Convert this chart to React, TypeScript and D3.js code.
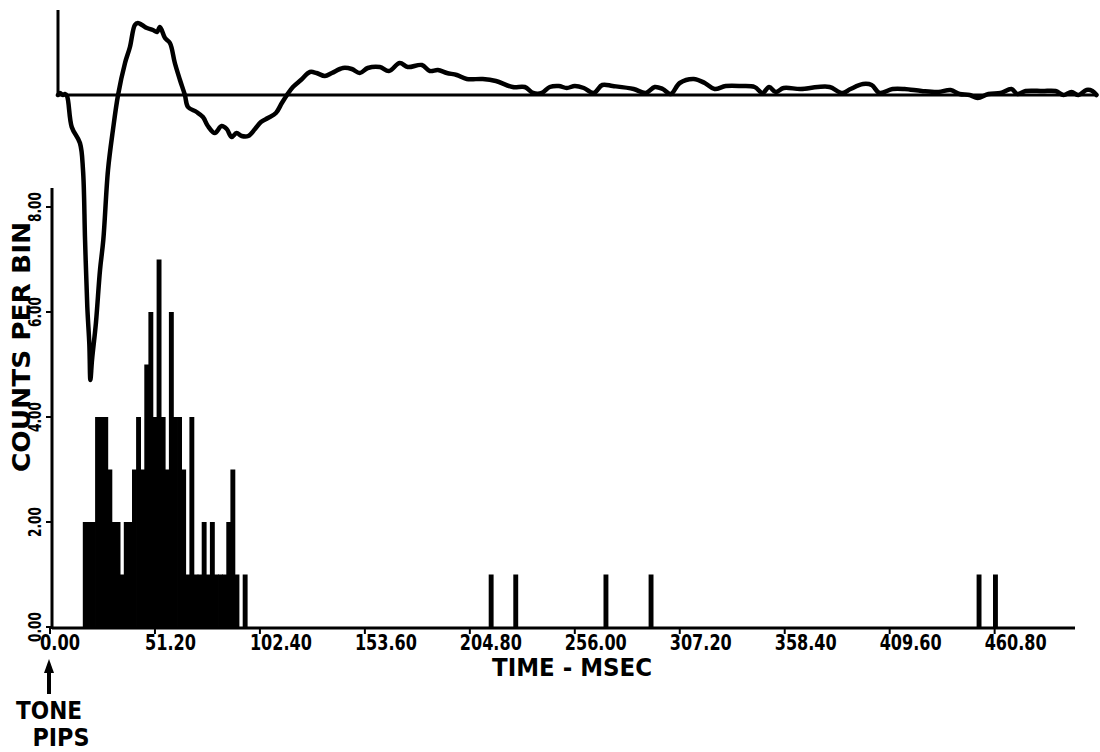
import React, { useEffect, useRef } from "react";
import * as d3 from "d3";

// PST histogram, 2 ms bins: bin start (ms) and spike count
const binWidthMs = 2;
const binStartMs = [
  16, 18, 20, 22, 24, 26, 28, 30, 32, 34, 36, 38, 40, 42, 44, 46, 48, 50, 52, 54,
  56, 58, 60, 62, 64, 66, 68, 70, 72, 74, 76, 78, 80, 82, 84, 86, 88, 90, 92, 94,
  214, 226, 270, 292, 452, 460,
];
const binCounts = [
  2, 2, 2, 4, 4, 4, 3, 2, 2, 1, 2, 2, 3, 4, 3, 5, 6, 4, 7, 4,
  3, 6, 4, 4, 3, 1, 4, 1, 1, 2, 1, 2, 1, 1, 1, 2, 3, 1, 0, 1,
  1, 1, 1, 1, 1, 1,
];

// averaged evoked potential above the histogram (arbitrary units, 0 = baseline)
const waveTimeMs = [
  3.9, 4.9, 6.3, 7.3, 8.3, 10.6, 14.6, 16.1, 17.1, 18.2, 19.2, 19.7, 20.5, 22.4, 24.4,
  26, 28.3, 30.7, 33.2, 36.6, 39, 41.4, 42.9, 44.9, 47.3, 50.2, 52.2, 53.6, 56.1, 58.5,
  60.9, 63.4, 65.8, 67.3, 71.5, 74.6, 77, 80.4, 83.7, 86.2, 88.6, 91, 93.5, 96.7, 100,
  102.9, 106.3, 110.2, 113.1, 115.6, 118.5, 122.4, 126.8, 130, 134.1, 137.5, 142.9,
  147.2, 151.1, 155, 160.9, 165.3, 170.6, 174.5, 181.4, 185.3, 189.2, 193.6, 198.4,
  203.3, 211.1, 217.5, 225.7, 231.6, 235.7, 239.9, 243.8, 248.2, 252.1, 256, 260.4,
  265.2, 269.4, 274.5, 284.7, 290.6, 295, 298.9, 302.8, 307.2, 314, 319.4, 324.2,
  329.6, 337.4, 343.7, 347.6, 350.8, 354, 357.9, 366.2, 374.5, 380.3, 386.6, 390.5,
  396.6, 400.8, 404.7, 411, 416.9, 425.2, 433.4, 439.3, 443.7, 448.6, 452.5, 457.8,
  463.7, 469, 471.9, 475.9, 484.2, 490.5, 494.4, 498.3, 501.7, 505.6, 508.5, 510.5,
];
const waveAmp = [
  0, 0.2, 0, 0.1, -0.1, -3.2, -4.8, -7.5, -14.5, -21.2, -25, -28.5, -26.5, -22.8, -17.5,
  -14.5, -7.5, -3.5, 0, 3.2, 4.8, 7, 7.2, 7, 6.7, 6.5, 6.3, 6.8, 5.7, 5.2,
  3.2, 1.5, 0, -1.2, -1.7, -2.2, -3.1, -3.8, -3.1, -3.4, -4.2, -3.8, -4.1, -4.1, -3.4,
  -2.7, -2.3, -1.8, -0.8, 0, 0.8, 1.5, 2.3, 2.2, 1.9, 2.2, 2.7,
  2.6, 2.2, 2.7, 2.8, 2.4, 3.2, 2.8, 3.0, 2.4, 2.5, 2.2, 2.0,
  1.6, 1.6, 1.4, 0.8, 0.8, 0.2, 0.2, 0.8, 0.9, 0.7, 0.9, 0.7,
  0.2, 1.0, 0.9, 0.6, 0.2, 0.8, 0.6, 0.1, 1.2, 1.6, 1.2, 0.6,
  0.9, 0.9, 0.8, 0.2, 0.8, 0.3, 0.7, 0.6, 0.8, 0.8, 0.2, 0.6,
  1.1, 1.0, 0.2, 0.6, 0.6, 0.4, 0.3, 0.5, 0.1, 0, -0.3, 0.1,
  0.2, 0.6, 0.1, 0.4, 0.4, 0.4, 0, 0.3, 0, 0.5, 0.4, 0,
];

const timeTicks = [0, 51.2, 102.4, 153.6, 204.8, 256, 307.2, 358.4, 409.6, 460.8];
const timeTickLabels = [
  "0.00", "51.20", "102.40", "153.60", "204.80", "256.00", "307.20", "358.40", "409.60", "460.80",
];
const countTicks = [0, 2, 4, 6, 8];
const countTickLabels = ["0.00", "2.00", "4.00", "6.00", "8.00"];

const width = 1100;
const height = 752;
const font = "'Liberation Sans Narrow', 'DejaVu Sans Condensed', 'DejaVu Sans', sans-serif";

function App() {
  const ref = useRef<HTMLDivElement>(null);

  useEffect(() => {
    drawChart();
  });

  function drawChart() {
    const root = d3.select(ref.current);
    root.select("svg").remove();

    const svg = root
      .append("svg")
      .attr("width", width)
      .attr("height", height)
      .style("display", "block")
      .style("background", "#ffffff");

    const x = d3.scaleLinear().domain([0, 500]).range([50, 1075]);
    const y = d3.scaleLinear().domain([0, 8]).range([627, 207]);
    const amp = d3.scaleLinear().domain([-28.5, 8.5]).range([380, 10]);

    const axisX = x(0) + 2;

    // histogram bars
    const bins = binStartMs.map((t, i) => ({ t, c: binCounts[i] })).filter((d) => d.c > 0);
    svg
      .append("g")
      .selectAll("rect")
      .data(bins)
      .enter()
      .append("rect")
      .attr("x", (d) => x(d.t))
      .attr("width", (d) => x(d.t + binWidthMs) - x(d.t) + 0.8)
      .attr("y", (d) => y(d.c))
      .attr("height", (d) => y(0) - y(d.c))
      .style("fill", "#000");

    // time axis
    svg
      .append("line")
      .attr("x1", axisX)
      .attr("x2", x(500))
      .attr("y1", y(0) + 1)
      .attr("y2", y(0) + 1)
      .style("stroke", "#000")
      .style("stroke-width", 3);

    const xt = svg.append("g");
    xt.selectAll("line")
      .data(timeTicks)
      .enter()
      .append("line")
      .attr("x1", (d) => x(d))
      .attr("x2", (d) => x(d))
      .attr("y1", y(0) + 1)
      .attr("y2", y(0) + 7)
      .style("stroke", "#000")
      .style("stroke-width", 2);
    xt.selectAll("text")
      .data(timeTicks)
      .enter()
      .append("text")
      .attr("x", (d) => x(d) - 10)
      .attr("y", 650)
      .attr("textLength", (_, i) => timeTickLabels[i].length * 11 - 4)
      .attr("lengthAdjust", "spacingAndGlyphs")
      .style("font-family", font)
      .style("font-weight", "bold")
      .style("font-size", "22px")
      .text((_, i) => timeTickLabels[i]);

    svg
      .append("text")
      .attr("x", 572)
      .attr("y", 676)
      .attr("text-anchor", "middle")
      .attr("textLength", 160)
      .attr("lengthAdjust", "spacingAndGlyphs")
      .style("font-family", font)
      .style("font-weight", "bold")
      .style("font-size", "24px")
      .text("TIME - MSEC");

    // counts axis
    svg
      .append("line")
      .attr("x1", axisX)
      .attr("x2", axisX)
      .attr("y1", y(8.36))
      .attr("y2", y(0) + 2)
      .style("stroke", "#000")
      .style("stroke-width", 3);

    const yt = svg.append("g");
    yt.selectAll("line")
      .data(countTicks)
      .enter()
      .append("line")
      .attr("x1", axisX - 6)
      .attr("x2", axisX)
      .attr("y1", (d) => y(d))
      .attr("y2", (d) => y(d))
      .style("stroke", "#000")
      .style("stroke-width", 2);
    yt.selectAll("text")
      .data(countTicks)
      .enter()
      .append("text")
      .attr("transform", (d) => `translate(41, ${y(d)}) rotate(-90)`)
      .attr("text-anchor", "middle")
      .attr("textLength", 30)
      .attr("lengthAdjust", "spacingAndGlyphs")
      .style("font-family", font)
      .style("font-weight", "bold")
      .style("font-size", "17px")
      .text((_, i) => countTickLabels[i]);

    svg
      .append("text")
      .attr("transform", "translate(30, 347) rotate(-90)")
      .attr("text-anchor", "middle")
      .attr("textLength", 250)
      .attr("lengthAdjust", "spacingAndGlyphs")
      .style("font-family", font)
      .style("font-weight", "bold")
      .style("font-size", "25px")
      .text("COUNTS PER BIN");

    // evoked potential: baseline, small vertical axis, trace
    const t0 = waveTimeMs[0];
    const t1 = waveTimeMs[waveTimeMs.length - 1];
    svg
      .append("line")
      .attr("x1", x(t0) - 1)
      .attr("x2", x(t1))
      .attr("y1", amp(0))
      .attr("y2", amp(0))
      .style("stroke", "#000")
      .style("stroke-width", 3);
    svg
      .append("line")
      .attr("x1", x(t0))
      .attr("x2", x(t0))
      .attr("y1", amp(0))
      .attr("y2", amp(8.5))
      .style("stroke", "#000")
      .style("stroke-width", 3);

    const line = d3
      .line<number>()
      .x((d) => x(d))
      .y((_, i) => amp(waveAmp[i]))
      .curve(d3.curveCatmullRom.alpha(0.5));
    svg
      .append("path")
      .attr("d", line(waveTimeMs))
      .style("fill", "none")
      .style("stroke", "#000")
      .style("stroke-width", 4.5)
      .style("stroke-linejoin", "round")
      .style("stroke-linecap", "round");

    // stimulus marker
    const ax = x(0) - 1;
    svg
      .append("line")
      .attr("x1", ax)
      .attr("x2", ax)
      .attr("y1", 670)
      .attr("y2", 694)
      .style("stroke", "#000")
      .style("stroke-width", 4);
    svg
      .append("path")
      .attr("d", `M${ax},659 L${ax - 5},673 L${ax + 5},673 Z`)
      .style("fill", "#000");

    svg
      .append("text")
      .attr("x", 49)
      .attr("y", 719)
      .attr("text-anchor", "middle")
      .attr("textLength", 66)
      .attr("lengthAdjust", "spacingAndGlyphs")
      .style("font-family", font)
      .style("font-weight", "bold")
      .style("font-size", "25px")
      .text("TONE");
    svg
      .append("text")
      .attr("x", 61)
      .attr("y", 746)
      .attr("text-anchor", "middle")
      .attr("textLength", 57)
      .attr("lengthAdjust", "spacingAndGlyphs")
      .style("font-family", font)
      .style("font-weight", "bold")
      .style("font-size", "25px")
      .text("PIPS");
  }

  return <div ref={ref} style={{ position: "absolute", left: 0, top: 0 }} />;
}

export default App;
